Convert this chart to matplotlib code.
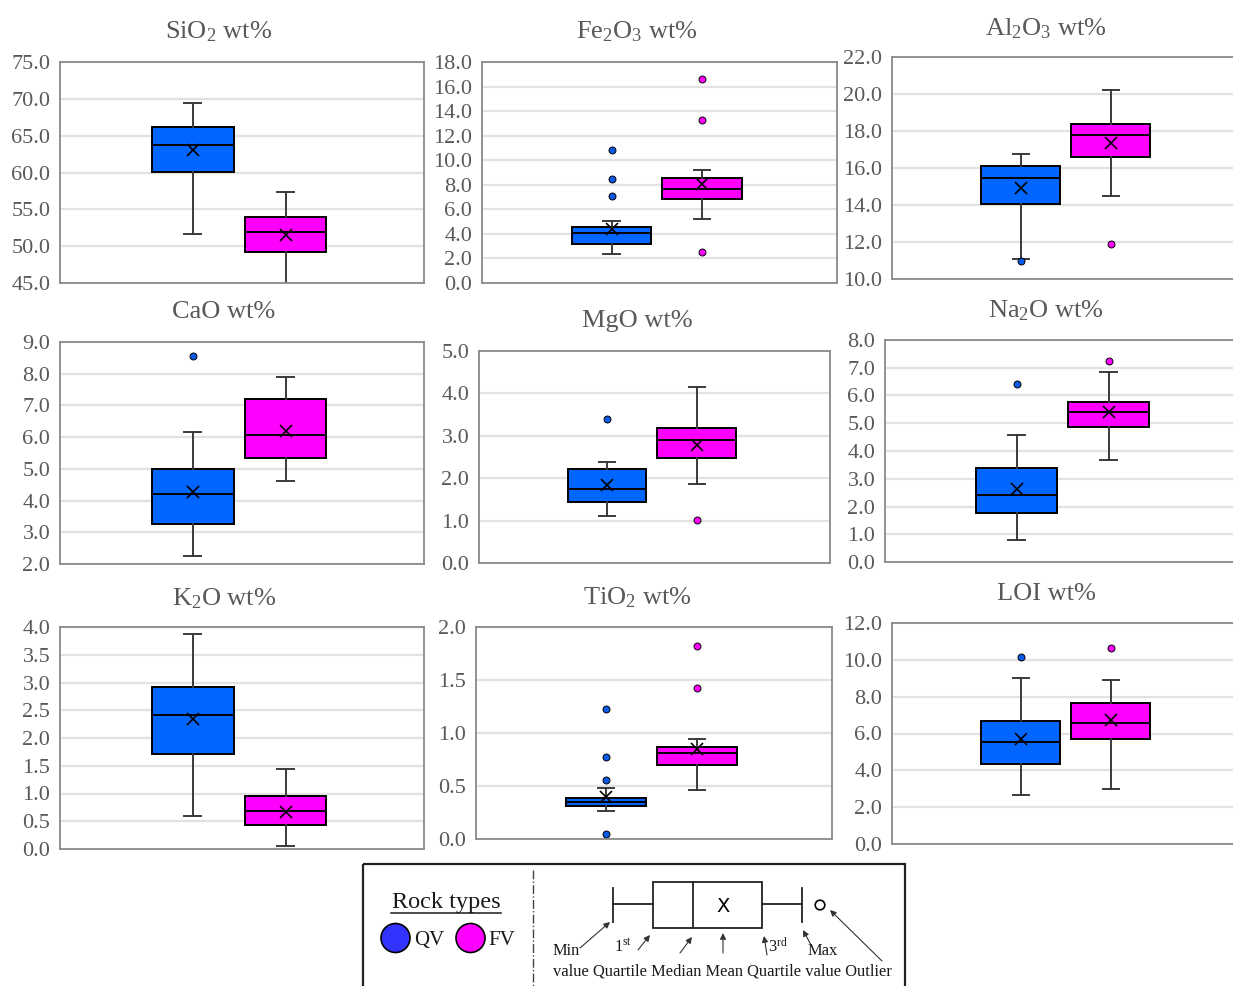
import matplotlib
matplotlib.use('Agg')
import matplotlib.pyplot as plt
import numpy as np
from matplotlib.patches import Circle, Rectangle

# ---- data ----
oxides = ["SiO$_\\mathrm{2}$", "Fe$_\\mathrm{2}$O$_\\mathrm{3}$", "Al$_\\mathrm{2}$O$_\\mathrm{3}$",
          "CaO", "MgO", "Na$_\\mathrm{2}$O",
          "K$_\\mathrm{2}$O", "TiO$_\\mathrm{2}$", "LOI"]

y_lo = [45, 0, 10, 2, 0, 0, 0, 0, 0]
y_hi = [75, 18, 22, 9, 5, 8, 4, 2, 12]
y_step = [5, 2, 2, 1, 1, 1, 0.5, 0.5, 2]

qv_min = [51.6, 2.38, 11.1, 2.26, 1.11, 0.79, 0.59, 0.26, 2.65]
qv_q1 = [60.1, 3.14, 14.06, 3.27, 1.44, 1.75, 1.71, 0.31, 4.33]
qv_med = [63.8, 4.06, 15.48, 4.21, 1.74, 2.41, 2.42, 0.345, 5.56]
qv_q3 = [66.2, 4.55, 16.11, 4.99, 2.21, 3.40, 2.91, 0.39, 6.68]
qv_max = [69.45, 5.09, 16.74, 6.15, 2.38, 4.59, 3.87, 0.48, 9.02]
qv_mean = [63.05, 4.38, 14.94, 4.26, 1.83, 2.63, 2.35, 0.395, 5.72]
qv_out = [[], [10.85, 8.47, 7.09], [10.95], [8.55], [3.40], [6.41], [],
          [1.23, 0.77, 0.555, 0.05], [10.18]]

fv_min = [43.0, 5.2, 14.46, 4.62, 1.87, 3.67, 0.05, 0.46, 3.01]
fv_q1 = [49.2, 6.82, 16.59, 5.33, 2.48, 4.85, 0.43, 0.70, 5.72]
fv_med = [51.95, 7.69, 17.78, 6.07, 2.89, 5.40, 0.69, 0.815, 6.55]
fv_q3 = [54.0, 8.55, 18.37, 7.20, 3.18, 5.78, 0.96, 0.87, 7.67]
fv_max = [57.3, 9.23, 20.24, 7.89, 4.15, 6.85, 1.45, 0.94, 8.92]
fv_mean = [51.55, 8.04, 17.33, 6.19, 2.78, 5.42, 0.67, 0.85, 6.73]
fv_out = [[], [16.59, 13.26, 2.54], [11.89], [], [1.02], [7.26], [],
          [1.82, 1.42], [10.63]]

groups = ["QV", "FV"]

QV_COLOR = "#0066FF"
FV_COLOR = "#FF00FF"
TXT = "#595959"

W, H = 1233, 986

# panel frames in pixels: left, top, right, bottom
panel_px = [(60, 62, 424, 283), (482, 62, 837, 283), (892, 57, 1245, 279),
            (60, 342, 424, 564), (479, 351, 830, 563), (885, 340, 1246, 562),
            (60, 627, 424, 849), (476, 627, 832, 839), (892, 623, 1245, 844)]
title_px = [(219, 38), (637, 38), (1046, 35), (224, 318), (637, 327), (1046, 317),
            (224, 605), (637, 604), (1046, 600)]

plt.rcParams.update({
    'font.family': 'Liberation Serif',
    'mathtext.fontset': 'custom',
    'mathtext.rm': 'Liberation Serif',
    'mathtext.it': 'Liberation Serif:italic',
    'mathtext.bf': 'Liberation Serif:bold',
})


def px_rect(l, t, r, b):
    return [l / W, 1 - b / H, (r - l) / W, (b - t) / H]


fig = plt.figure(figsize=(W / 100, H / 100), dpi=100)

for i in range(9):
    ax = fig.add_axes(px_rect(*panel_px[i]))
    stats = [
        dict(whislo=qv_min[i], q1=qv_q1[i], med=qv_med[i], q3=qv_q3[i],
             whishi=qv_max[i], mean=qv_mean[i], fliers=qv_out[i], label="QV"),
        dict(whislo=fv_min[i], q1=fv_q1[i], med=fv_med[i], q3=fv_q3[i],
             whishi=fv_max[i], mean=fv_mean[i], fliers=fv_out[i], label="FV"),
    ]
    bp = ax.bxp(stats, positions=[1, 2], widths=0.88, showmeans=True,
                patch_artist=True, capwidths=0.18,
                boxprops=dict(edgecolor='black', linewidth=1.4),
                medianprops=dict(color='black', linewidth=1.4),
                whiskerprops=dict(color='#3A3A3A', linewidth=1.4),
                capprops=dict(color='#3A3A3A', linewidth=1.4),
                meanprops=dict(marker='x', markeredgecolor='black',
                               markeredgewidth=1.2, markersize=8),
                flierprops=dict(marker='o', markersize=5,
                                markeredgecolor='black', markeredgewidth=0.7))
    for patch, c in zip(bp['boxes'], [QV_COLOR, FV_COLOR]):
        patch.set_facecolor(c)
    for fl, c in zip(bp['fliers'], ["#0A5AE6", FV_COLOR]):
        fl.set_markerfacecolor(c)

    ax.set_xlim(-0.43, 3.49)
    ax.set_ylim(y_lo[i], y_hi[i])
    ticks = np.arange(y_lo[i], y_hi[i] + y_step[i] / 2, y_step[i])
    ax.set_yticks(ticks)
    ax.set_yticklabels([f"{t:.1f}" for t in ticks])
    ax.set_xticks([])
    ax.tick_params(axis='y', length=0, pad=7, labelsize=16, labelcolor=TXT)
    ax.yaxis.grid(True, color='#E2E2E2', linewidth=1.6)
    ax.set_axisbelow(True)
    for s in ax.spines.values():
        s.set_color('#8A8A8A')
        s.set_linewidth(1.3)

    tx, ty = title_px[i]
    fig.text(tx / W, 1 - ty / H, oxides[i] + " wt%", ha='center', va='baseline',
             fontsize=19, color=TXT)

# ---- explanation box (drawn in pixel coordinates) ----
lg = fig.add_axes([0, 0, 1, 1], facecolor='none')
lg.set_xlim(0, W)
lg.set_ylim(H, 0)
lg.axis('off')

INK = '#1A1A1A'
lg.add_patch(Rectangle((363, 864), 542, 130, fill=False, edgecolor='#222222', lw=1.6))
lg.plot([533, 533], [870, 986], color='#444444', lw=1.0, linestyle='-.')

lg.text(446, 908, "Rock types", ha='center', va='baseline', fontsize=17.5, color=INK)
lg.plot([391, 501], [913, 913], color=INK, lw=1.1)
lg.add_patch(Circle((395.5, 938), 14.5, facecolor="#3333FF", edgecolor='black', lw=1.2))
lg.add_patch(Circle((470.5, 938), 14.5, facecolor=FV_COLOR, edgecolor='black', lw=1.2))
lg.text(414, 945, groups[0], ha='left', va='baseline', fontsize=15, color=INK)
lg.text(488, 945, groups[1], ha='left', va='baseline', fontsize=15, color=INK)

# schematic box plot
k = dict(color='#222222', lw=1.3)
lg.plot([613, 613], [888, 922], **k)
lg.plot([613, 653], [904, 904], **k)
lg.add_patch(Rectangle((653, 882), 109, 46, fill=False, edgecolor='#222222', lw=1.3))
lg.plot([693, 693], [882, 928], **k)
lg.text(723, 906, "X", ha='center', va='center', fontsize=14,
        family='DejaVu Sans', color='black')
lg.plot([762, 802], [904, 904], **k)
lg.plot([802, 802], [888, 922], **k)
lg.add_patch(Circle((820, 905), 4.8, fill=False, edgecolor='black', lw=1.2))

fs = 11.9
lg.text(553, 955, "Min", ha='left', va='baseline', fontsize=fs, color=INK)
lg.text(614, 952, "1$^\\mathrm{st}$", ha='left', va='baseline', fontsize=fs, color=INK)
lg.text(768, 952, "3$^\\mathrm{rd}$", ha='left', va='baseline', fontsize=fs, color=INK)
lg.text(808, 955, "Max", ha='left', va='baseline', fontsize=fs, color=INK)
lg.text(553, 975, "value Quartile Median Mean Quartile value Outlier",
        ha='left', va='baseline', fontsize=fs, color=INK)

arrows = [((580, 948), (610, 922)), ((638, 950), (650, 935)),
          ((680, 953), (692, 937)), ((723, 953), (723, 933)),
          ((767, 955), (764, 936)), ((811, 945), (803, 930)),
          ((882, 961), (830, 910))]
for (x0, y0), (x1, y1) in arrows:
    lg.annotate("", xy=(x1, y1), xytext=(x0, y0),
                arrowprops=dict(arrowstyle='-|>', color='#333333', lw=0.8,
                                mutation_scale=9, shrinkA=0, shrinkB=0))

fig.savefig("out.png", dpi=100)
